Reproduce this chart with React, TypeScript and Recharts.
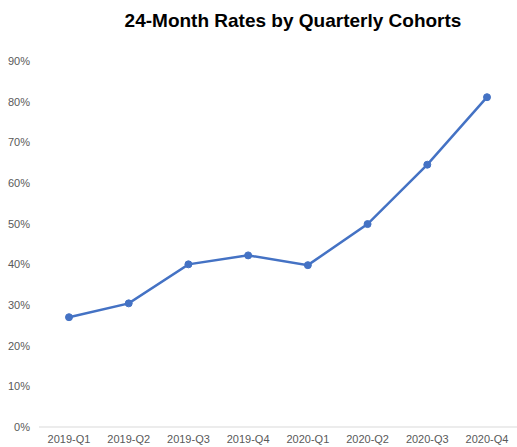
import React from 'react';
import { LineChart, Line, XAxis, YAxis } from 'recharts';

const quarters = ['2019-Q1', '2019-Q2', '2019-Q3', '2019-Q4', '2020-Q1', '2020-Q2', '2020-Q3', '2020-Q4'];
const rates = [0.27, 0.304, 0.40, 0.422, 0.398, 0.499, 0.645, 0.811];
const yTicks = [0, 0.1, 0.2, 0.3, 0.4, 0.5, 0.6, 0.7, 0.8, 0.9];

const data = quarters.map((q, i) => ({ quarter: q, rate: rates[i] }));

const FONT = '"Liberation Sans", Arial, sans-serif';
const LINE_BLUE = '#4472C4';

export default function App() {
  return (
    <div style={{ position: 'absolute', left: 0, top: 0, width: 517, height: 447, background: '#fff', fontFamily: FONT }}>
      <div
        style={{
          position: 'absolute',
          left: 293,
          top: 10,
          transform: 'translateX(-50%)',
          whiteSpace: 'nowrap',
          fontSize: 19,
          fontWeight: 'bold',
          color: '#000',
        }}
      >
        24-Month Rates by Quarterly Cohorts
      </div>
      <LineChart width={517} height={447} data={data} margin={{ top: 61, right: 0, bottom: 0, left: 0 }}>
        <XAxis
          dataKey="quarter"
          height={20}
          padding={{ left: 30, right: 30 }}
          axisLine={{ stroke: '#d9d9d9' }}
          tickLine={false}
          tickSize={4}
          tickMargin={4}
          interval={0}
          tick={{ fill: '#595959', fontSize: 11, fontFamily: FONT }}
        />
        <YAxis
          width={39}
          domain={[0, 0.9]}
          ticks={yTicks}
          axisLine={false}
          tickLine={false}
          tickSize={4}
          tickMargin={5}
          tickFormatter={(v: number) => `${Math.round(v * 100)}%`}
          tick={{ fill: '#595959', fontSize: 11, fontFamily: FONT }}
        />
        <Line
          type="linear"
          dataKey="rate"
          stroke={LINE_BLUE}
          strokeWidth={2.5}
          dot={{ r: 3.5, fill: LINE_BLUE, stroke: LINE_BLUE, strokeWidth: 1 }}
          isAnimationActive={false}
        />
      </LineChart>
    </div>
  );
}
